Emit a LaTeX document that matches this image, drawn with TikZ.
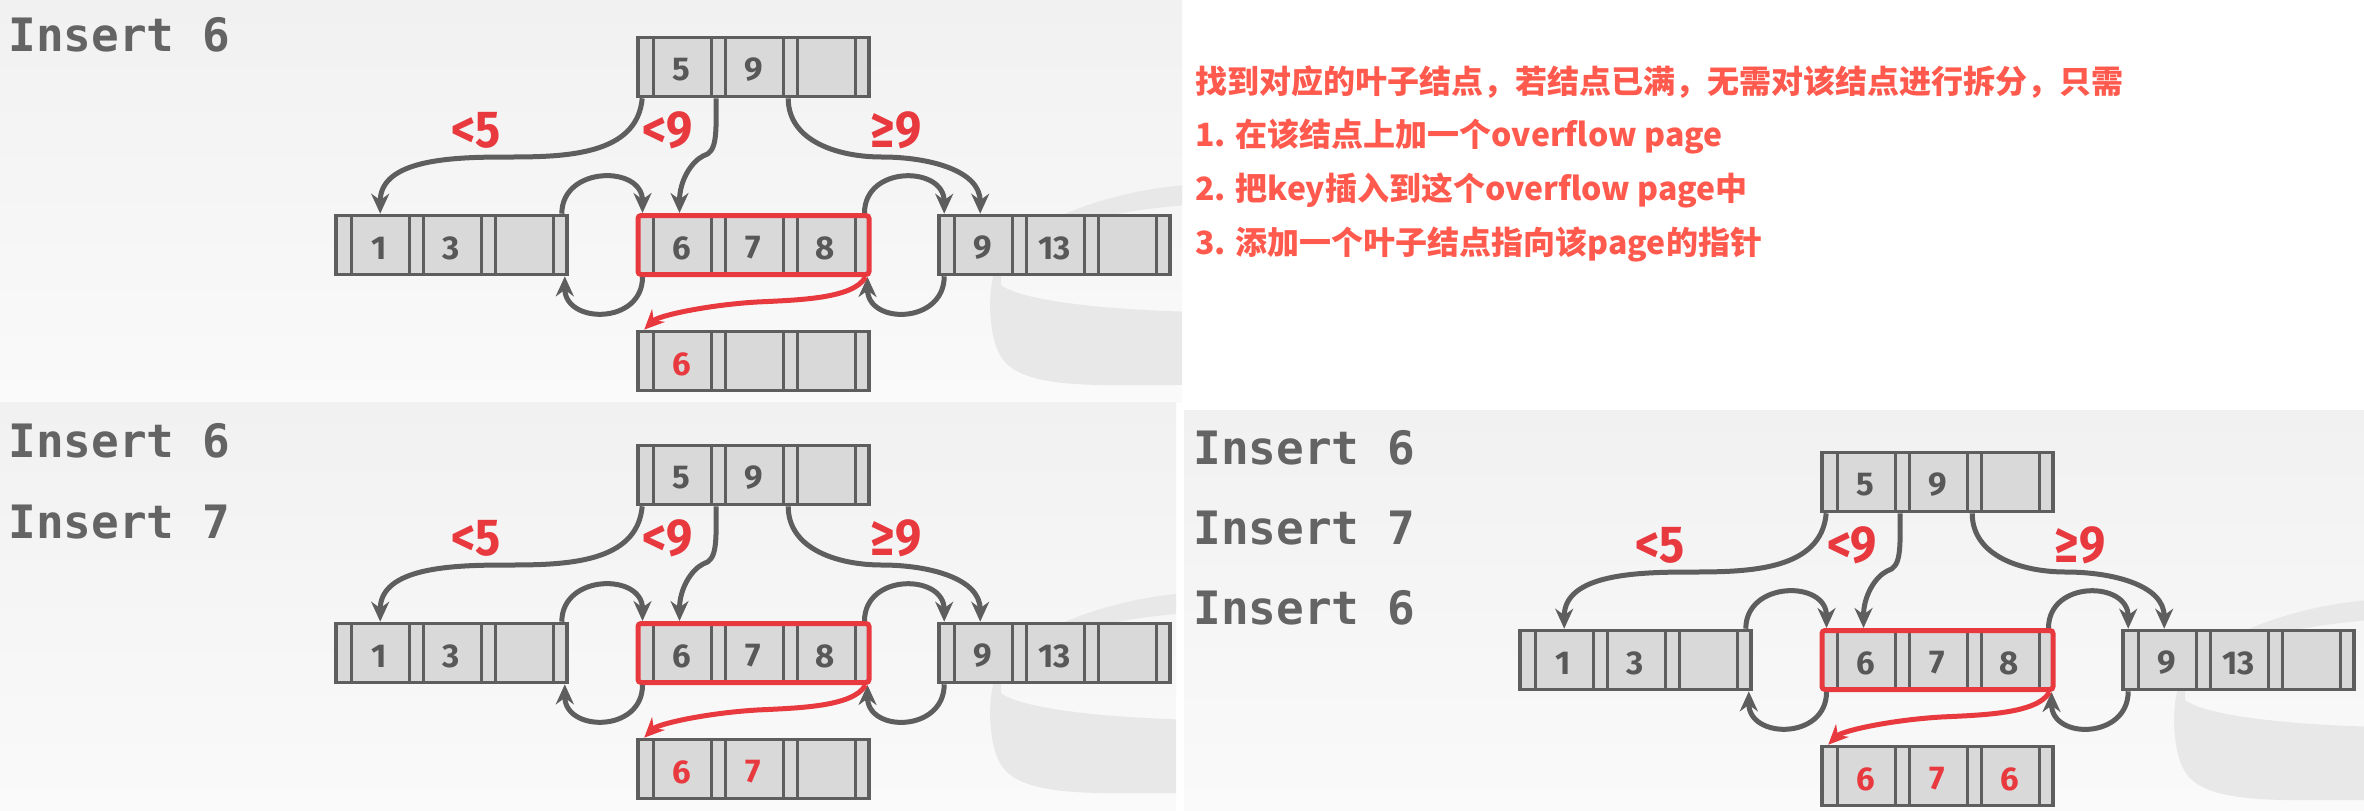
\documentclass[tikz,border=0pt]{standalone}
\usepackage{fontspec}
\usetikzlibrary{arrows.meta,calc}
\newfontfamily\keyfont{Fira Sans}
\newfontfamily\lblfont[FakeStretch=0.9]{Fira Sans}
\newfontfamily\insfont{DejaVu Sans Mono}
\newfontfamily\cjkfont{Noto Sans CJK SC}
\definecolor{gline}{HTML}{5E5E5E}
\definecolor{cellfill}{HTML}{D9D9D9}
\definecolor{keytext}{HTML}{585858}
\definecolor{hired}{HTML}{E8393F}
\definecolor{txtred}{HTML}{FF5A4D}
\definecolor{instext}{HTML}{646464}
\definecolor{bgtop}{HTML}{F1F1F1}
\definecolor{bgbot}{HTML}{FAFAFA}
\definecolor{wmgray}{HTML}{E8E8E8}
\tikzset{
  rec/.style={draw=gline, fill=cellfill, line width=1.8pt, minimum width=115.5pt,
    minimum height=29.5pt, inner sep=0pt,
    path picture={\foreach \xx in {7.5,36.5,43.5,72.5,79.5,108.5}{
      \draw[gline,line width=1.5pt] ([xshift=\xx pt]path picture bounding box.south west)
        -- ([xshift=\xx pt]path picture bounding box.north west);}}},
  redrec/.style={draw=hired, line width=2.5pt, rounded corners=1.5pt},
  key/.style={font=\keyfont\bfseries\fontsize{16.5}{16.5}\selectfont, text=keytext, inner sep=0pt},
  redkey/.style={key, text=hired},
  lbl/.style={font=\lblfont\bfseries\fontsize{26}{26}\selectfont, text=hired, inner sep=0pt},
  conn/.style={draw=gline, line width=2.5pt, -{Stealth[length=10pt,width=9pt]}},
  redconn/.style={conn, draw=hired},
  ins/.style={font=\insfont\bfseries\fontsize{23}{23}\selectfont, text=instext, anchor=base west, inner sep=0pt},
  cjk/.style={font=\cjkfont\bfseries\fontsize{16}{16}\selectfont, text=txtred, anchor=base west, inner sep=0pt},
}
\newcommand{\wmark}[2]{%
  \fill[wmgray, even odd rule]
   ({#1+1200},{#2+184}) .. controls ({#1+1120},{#2+188}) and ({#1+1040},{#2+215}) .. ({#1+1002},{#2+255})
   .. controls ({#1+985},{#2+278}) and ({#1+988},{#2+335}) .. ({#1+1000},{#2+355})
   .. controls ({#1+1012},{#2+378}) and ({#1+1050},{#2+384}) .. ({#1+1100},{#2+385})
   -- ({#1+1200},{#2+385}) -- cycle
   ({#1+1001},{#2+280}) .. controls ({#1+1000},{#2+240}) and ({#1+1080},{#2+212}) .. ({#1+1200},{#2+204})
   -- ({#1+1200},{#2+312}) .. controls ({#1+1100},{#2+310}) and ({#1+1020},{#2+300}) .. ({#1+1001},{#2+285}) -- cycle;
}
\newcommand{\treepanel}[3]{%
  \node[rec] (#1root) at ({#2+753.5},{#3+67}) {};
  \node[rec] (#1la) at ({#2+451.5},{#3+245}) {};
  \node[rec,redrec] (#1lb) at ({#2+753.5},{#3+245}) {};
  \node[rec] (#1lc) at ({#2+1054.5},{#3+245}) {};
  \node[rec] (#1of) at ({#2+753.5},{#3+361}) {};
  \node[key] (#1k5) at ($(#1root)+(-72,3)$) {5};
  \node[key] (#1k9) at ($(#1root)+(0,3)$) {9};
  \node[key] (#1k1) at ($(#1la)+(-72,3)$) {1};
  \node[key] (#1k3) at ($(#1la)+(0,3)$) {3};
  \node[key] (#1k6) at ($(#1lb)+(-72,3)$) {6};
  \node[key] (#1k7) at ($(#1lb)+(0,3)$) {7};
  \node[key] (#1k8) at ($(#1lb)+(72,3)$) {8};
  \node[key] (#1kn) at ($(#1lc)+(-72,3)$) {9};
  \node[key] (#1kt) at ($(#1lc)+(0,3)$) {13};
  \node[lbl] (#1lt5) at ({#2+476},{#3+130}) {<5};
  \node[lbl] (#1lt9) at ({#2+668},{#3+130}) {<9};
  \node[lbl] (#1ge9) at ({#2+896},{#3+130}) {≥9};
  \coordinate (#1m1) at ({#2+508},{#3+157});
  \coordinate (#1m2) at ({#2+703},{#3+156});
  \coordinate (#1m3) at ({#2+882},{#3+157});
  \coordinate (#1m4) at ({#2+757},{#3+302});
  \draw[conn] ($(#1root.south west)+(6,0)$) to[out=-95,in=0] (#1m1) to[out=180,in=90] ($(#1la.north west)+(46,0)$);
  \draw[conn] ($(#1root.south west)+(80,0)$) .. controls +(0,38) and +(14,-4) .. (#1m2)
     .. controls +(-12,6) and +(0,-32) .. ($(#1lb.north west)+(44,0)$);
  \draw[conn] ($(#1root.south west)+(152,0)$) to[out=-90,in=180] (#1m3) to[out=0,in=90] ($(#1lc.north west)+(43,0)$);
  \draw[conn] ($(#1la.north east)+(-7,0)$) .. controls +(0,-48) and +(0,-48) .. ($(#1lb.north west)+(7,0)$);
  \draw[conn] ($(#1lb.south west)+(7,0)$) .. controls +(0,48) and +(0,48) .. ($(#1la.south east)+(-4,0)$);
  \draw[conn] ($(#1lb.north east)+(-7,0)$) .. controls +(0,-48) and +(0,-48) .. ($(#1lc.north west)+(7,0)$);
  \draw[conn] ($(#1lc.south west)+(7,0)$) .. controls +(0,48) and +(0,48) .. ($(#1lb.south east)+(-4,0)$);
  \draw[redconn] ($(#1lb.south east)+(-6,0)$) .. controls +(-12,22) and +(40,-2) .. (#1m4)
     .. controls +(-50,3) and +(14,-14) .. ($(#1of.north west)+(8,0)$);
}
\begin{document}
\begin{tikzpicture}[x=0.5pt,y=-0.5pt]
\fill[white] (0,0) rectangle (2364,810);
% panel backgrounds
\begin{scope}
  \clip (0,0) rectangle (1182,402);
  \shade[top color=bgtop,bottom color=bgbot] (0,0) rectangle (1182,402);
  \wmark{0}{0}
\end{scope}
\begin{scope}
  \clip (0,402) rectangle (1176,810);
  \shade[top color=bgtop,bottom color=bgbot] (0,402) rectangle (1176,810);
  \wmark{0}{408}
\end{scope}
\begin{scope}
  \clip (1184,410) rectangle (2364,810);
  \shade[top color=bgtop,bottom color=bgbot] (1184,410) rectangle (2364,810);
  \wmark{1184}{415}
\end{scope}
% panel A
\node[ins] (Ai1) at (8,51) {Insert 6};
\treepanel{A}{0}{0}
\node[redkey] (Ao1) at ($(Aof)+(-72,3)$) {6};
% panel B
\node[ins] (Bi1) at (8,457) {Insert 6};
\node[ins] (Bi2) at (8,538) {Insert 7};
\treepanel{B}{0}{408}
\node[redkey] (Bo1) at ($(Bof)+(-72,3)$) {6};
\node[redkey] (Bo2) at ($(Bof)+(0,3)$) {7};
% panel C
\node[ins] (Ci1) at (1193,464) {Insert 6};
\node[ins] (Ci2) at (1193,544) {Insert 7};
\node[ins] (Ci3) at (1193,624) {Insert 6};
\treepanel{C}{1184}{415}
\node[redkey] (Co1) at ($(Cof)+(-72,3)$) {6};
\node[redkey] (Co2) at ($(Cof)+(0,3)$) {7};
\node[redkey] (Co3) at ($(Cof)+(72,3)$) {6};
% explanation text
\node[cjk] (t1) at (1195,93) {找到对应的叶子结点，若结点已满，无需对该结点进行拆分，只需};
\node[cjk] (t2) at (1195,146) {1. 在该结点上加一个overflow page};
\node[cjk] (t3) at (1195,200) {2. 把key插入到这个overflow page中};
\node[cjk] (t4) at (1195,254) {3. 添加一个叶子结点指向该page的指针};
\end{tikzpicture}
\end{document}
